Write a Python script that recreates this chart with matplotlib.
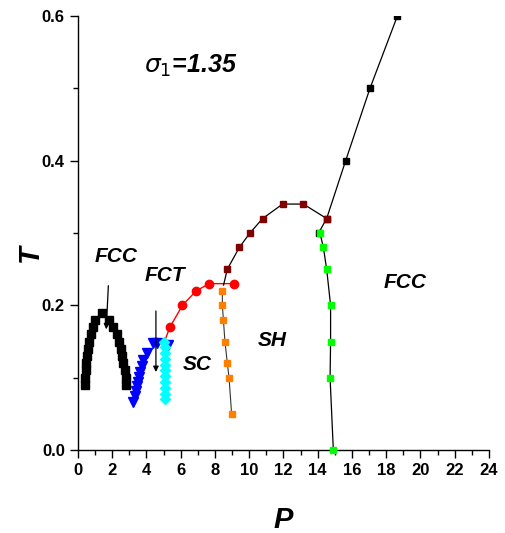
import matplotlib
matplotlib.use("Agg")
import matplotlib.pyplot as plt
from matplotlib.ticker import MultipleLocator

plt.rcParams['font.family'] = ['Liberation Sans', 'DejaVu Sans']

# FCC dome at low pressure (black squares)
fcc_low_P = [0.42, 0.43, 0.45, 0.48, 0.52, 0.58, 0.65, 0.75, 0.88, 1.0, 1.4,
             1.8, 2.05, 2.25, 2.4, 2.5, 2.58, 2.65, 2.72, 2.78, 2.82]
fcc_low_T = [0.09, 0.10, 0.11, 0.12, 0.13, 0.14, 0.15, 0.16, 0.17, 0.18, 0.19,
             0.18, 0.17, 0.16, 0.15, 0.14, 0.13, 0.12, 0.11, 0.10, 0.09]

# FCT boundary (blue down-triangles)
fct_P = [3.23, 3.33, 3.39, 3.44, 3.48, 3.56, 3.62, 3.72, 3.81, 4.01, 4.4, 4.6, 5.28]
fct_T = [0.067, 0.074, 0.081, 0.088, 0.094, 0.101, 0.108, 0.116, 0.124, 0.134,
         0.148, 0.148, 0.145]

# FCT / SC boundary (cyan diamonds)
sc_P = [5.05, 5.1, 5.1, 5.1, 5.1, 5.1, 5.1, 5.1, 5.1, 5.1, 5.1]
sc_T = [0.15, 0.142, 0.134, 0.126, 0.118, 0.11, 0.102, 0.094, 0.086, 0.078, 0.07]

# SC upper boundary (red circles); first point is the junction with the cyan line
red_P = [5.05, 5.37, 6.1, 6.9, 7.67, 9.1]
red_T = [0.15, 0.17, 0.20, 0.22, 0.23, 0.23]

# SC / SH boundary (orange squares)
orange_P = [8.43, 8.43, 8.49, 8.58, 8.72, 8.82, 8.97]
orange_T = [0.22, 0.20, 0.18, 0.15, 0.12, 0.10, 0.05]

# SH upper boundary (dark red squares); first point is the junction at the red line
maroon_P = [8.5, 8.72, 9.42, 10.04, 10.78, 11.95, 13.16, 14.52]
maroon_T = [0.228, 0.25, 0.28, 0.30, 0.32, 0.34, 0.34, 0.32]

# FCC melting line at high pressure (black squares)
fcc_high_P = [14.05, 14.52, 15.63, 17.05, 18.65]
fcc_high_T = [0.30, 0.32, 0.40, 0.50, 0.60]

# SH / FCC boundary (green squares)
green_P = [14.13, 14.33, 14.52, 14.75, 14.75, 14.72, 14.91]
green_T = [0.30, 0.28, 0.25, 0.20, 0.15, 0.10, 0.0]

x_ticks = list(range(0, 25, 2))
y_ticks = [0.0, 0.2, 0.4, 0.6]
y_ticklabels = ["0.0", "0.2", "0.4", "0.6"]

fig = plt.figure(figsize=(5.06, 5.33), dpi=100)
ax = fig.add_axes([78 / 506, 1 - 450 / 533, (489 - 78) / 506, (450 - 16) / 533])

ax.plot(fcc_low_P, fcc_low_T, color='black', marker='s', ms=6, lw=1, ls='-', zorder=3)
ax.plot(fct_P, fct_T, color='#0000ff', marker='v', ms=7.5, lw=0, zorder=3)
ax.plot(red_P, red_T, color='#ff0000', marker='o', ms=6, lw=1, markevery=slice(1, None), zorder=3)
ax.plot(sc_P, sc_T, color='#00ffff', marker='D', ms=5.5, lw=0, zorder=4)
ax.plot(orange_P, orange_T, color='#ff8000', marker='s', ms=5, lw=0, zorder=4)
ax.plot(orange_P, orange_T, color='#333333', lw=0.8, zorder=3)
ax.plot(maroon_P, maroon_T, color='black', lw=0.9, zorder=3)
ax.plot(maroon_P, maroon_T, color='#800000', marker='s', ms=5, lw=0,
        markevery=slice(1, None), zorder=4)
ax.plot(fcc_high_P, fcc_high_T, color='black', marker='s', ms=5, lw=0.9, zorder=3)
ax.plot(green_P, green_T, color='black', lw=0.9, zorder=3, clip_on=False)
ax.plot(green_P, green_T, color='#00ff00', marker='s', ms=5, lw=0, zorder=5, clip_on=False)

ax.set_xlim(0, 24)
ax.set_ylim(0, 0.6)

for side in ('top', 'right'):
    ax.spines[side].set_visible(False)
for side in ('left', 'bottom'):
    ax.spines[side].set_linewidth(1.0)

ax.set_xticks(x_ticks)
ax.set_yticks(y_ticks)
ax.set_yticklabels(y_ticklabels)
ax.xaxis.set_minor_locator(MultipleLocator(1))
ax.yaxis.set_minor_locator(MultipleLocator(0.1))
ax.tick_params(which='major', direction='out', length=6, width=1, labelsize=12)
ax.tick_params(which='minor', direction='out', length=3.5, width=1)
for lbl in ax.get_xticklabels() + ax.get_yticklabels():
    lbl.set_fontweight('bold')

ax.set_xlabel('P', fontsize=21, fontweight='bold', fontstyle='italic')
ax.set_ylabel('T', fontsize=21, fontweight='bold', fontstyle='italic')
ax.xaxis.set_label_coords(0.499, -0.161)
ax.yaxis.set_label_coords(-0.117, 0.454)
ax.xaxis.label.set_va('center')
ax.yaxis.label.set_va('center')

txt = dict(fontsize=15, fontweight='bold', fontstyle='italic', ha='center', va='center')
ax.text(2.22, 0.268, 'FCC', **txt)
ax.text(5.08, 0.241, 'FCT', **txt)
ax.text(6.95, 0.118, 'SC', **txt)
ax.text(11.33, 0.152, 'SH', **txt)
ax.text(19.1, 0.231, 'FCC', **txt)
ax.text(6.6, 0.531, r'$\sigma_{\mathit{1}}$' + '=1.35', fontsize=18, fontweight='bold',
        fontstyle='italic', ha='center', va='center')

arrow = dict(arrowstyle='-|>', color='black', lw=0.9, mutation_scale=8)
ax.annotate('', xy=(1.64, 0.163), xytext=(1.78, 0.231), arrowprops=arrow)
ax.annotate('', xy=(4.55, 0.104), xytext=(4.55, 0.196), arrowprops=arrow)

fig.savefig('out.png', dpi=100)
